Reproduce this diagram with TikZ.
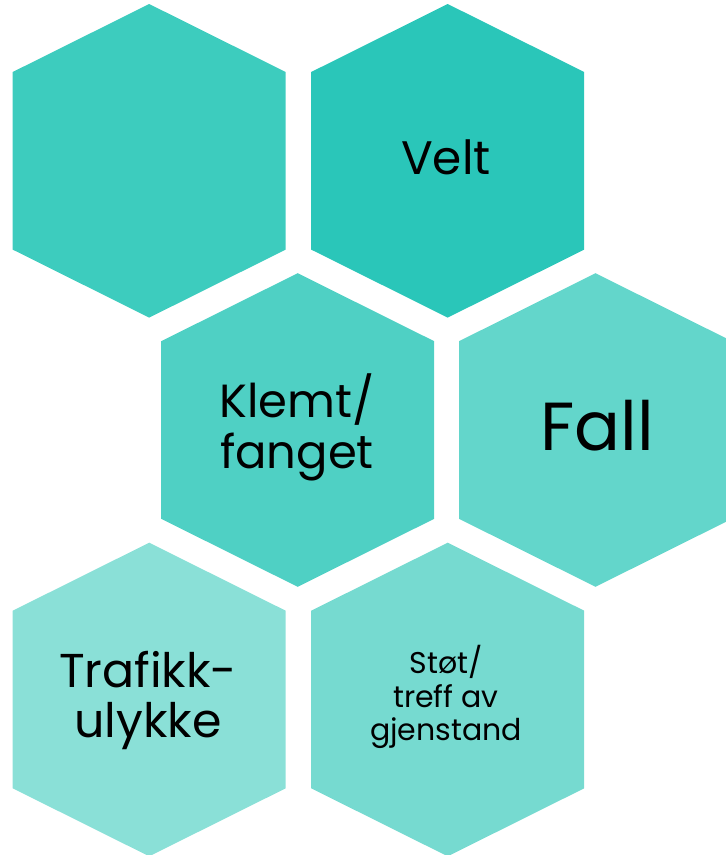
\documentclass[tikz,border=0pt]{standalone}
\usepackage{fontspec}
\setmainfont{Poppins}
\definecolor{hexA}{HTML}{3DCCBE}
\definecolor{hexB}{HTML}{2AC6B9}
\definecolor{hexC}{HTML}{4FD0C4}
\definecolor{hexD}{HTML}{63D6CB}
\definecolor{hexE}{HTML}{8AE0D7}
\definecolor{hexF}{HTML}{76DAD0}
\tikzset{
  hexlabel/.style={align=center, text=black, inner sep=0pt},
}
\newcommand{\hexat}[3]{%
  \fill[#3] (#1,#2-156.8) -- (#1+136.5,#2-88.8) -- (#1+136.5,#2+88.8) -- (#1,#2+156.8) -- (#1-136.5,#2+88.8) -- (#1-136.5,#2-88.8) -- cycle;}
\begin{document}
\begin{tikzpicture}[x=1pt,y=-1pt]
\useasboundingbox (0,0) rectangle (726,855);
\clip (0,0) rectangle (726,855);
\hexat{149.2}{160.8}{hexA}
\hexat{447.7}{160.8}{hexB}
\hexat{297.7}{430}{hexC}
\hexat{595.5}{430}{hexD}
\hexat{149.2}{699.5}{hexE}
\hexat{447.7}{699.5}{hexF}
\node[hexlabel, font={\fontsize{47}{51}\selectfont}] (velt) at (446,157) {Velt};
\node[hexlabel, font={\fontsize{46.5}{51}\selectfont}] (klemt) at (297,427) {Klemt/\\fanget};
\node[hexlabel, font={\fontsize{68}{70}\selectfont}] (fall) at (597,426) {Fall};
\node[hexlabel, font={\fontsize{47.5}{50}\selectfont}] (trafikk) at (148,700) {Trafikk-\\ulykke};
\node[hexlabel, font={\fontsize{30}{33.5}\selectfont}] (stot) at (446,697) {Støt/\\treff av\\gjenstand};
\end{tikzpicture}
\end{document}
